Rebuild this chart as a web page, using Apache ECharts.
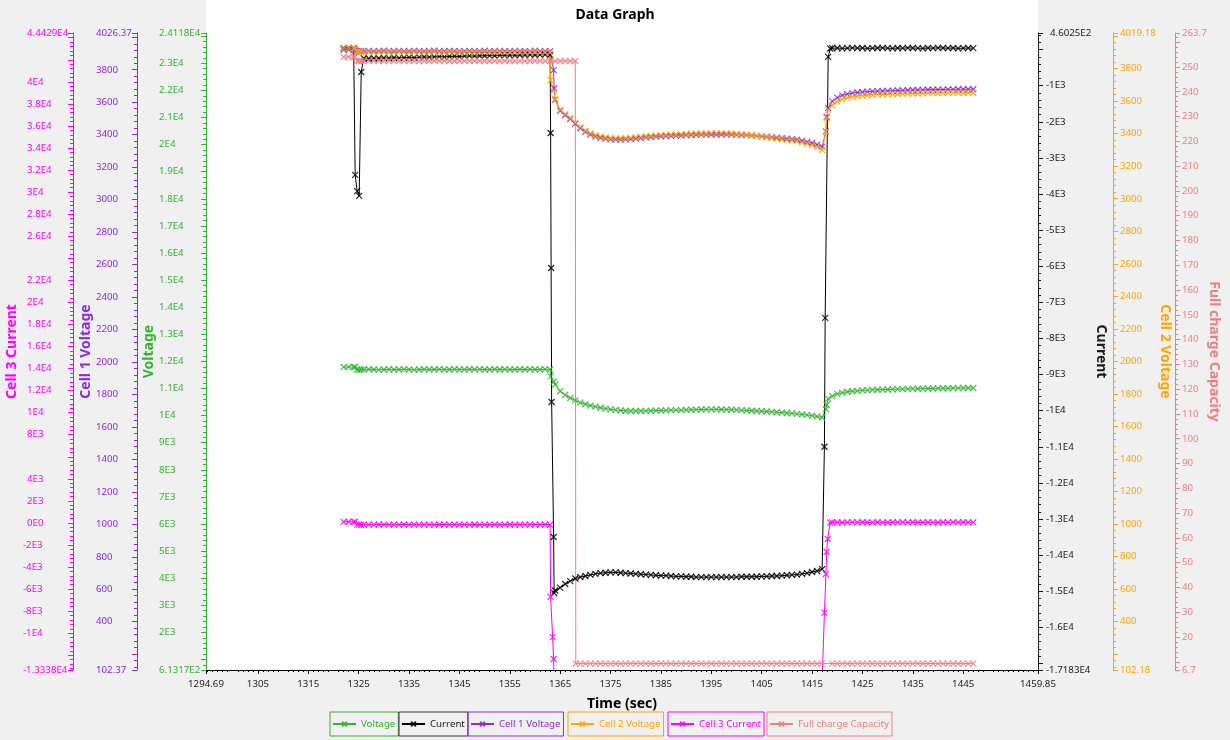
<!DOCTYPE html>
<html><head><meta charset="utf-8">
<script src="https://cdn.jsdelivr.net/npm/echarts@6/dist/echarts.min.js"></script>
<style>html,body{margin:0;padding:0;background:#F0F0F0}#c{width:1230px;height:740px}</style>
</head><body><div id="c"></div><script>
// ---------- sample times (sec) ----------
const time = [
 1322,1323,1324,
 1324.3,1324.7,1325.1,1325.5,
 1326,1327,1328,1329,1330,1331,1332,1333,1334,1335,
 1336,1337,1338,1339,1340,1341,1342,1343,1344,1345,
 1346,1347,1348,1349,1350,1351,1352,1353,1354,1355,
 1356,1357,1358,1359,1360,1361,1362,1363,
 1363.1,1363.2,1363.3,1363.5,1363.7,1363.8,
 1364,1365,1366,1367,1368,
 1368.1,
 1369,1370,1371,1372,1373,1374,1375,1376,1377,1378,
 1379,1380,1381,1382,1383,1384,1385,1386,1387,1388,
 1389,1390,1391,1392,1393,1394,1395,1396,1397,1398,
 1399,1400,1401,1402,1403,1404,1405,1406,1407,1408,
 1409,1410,1411,1412,1413,1414,1415,1416,1417,
 1417.35,1417.45,1417.6,1417.75,1417.9,1418.1,1418.2,1418.6,
 1419,1420,1421,1422,1423,1424,1425,1426,1427,1428,
 1429,1430,1431,1432,1433,1434,1435,1436,1437,1438,
 1439,1440,1441,1442,1443,1444,1445,1446,1447
];

const voltage = [
 11790,11800,11790,
 11790,11700,11690,11700,
 11700,11710,11700,11690,11700,11710,11700,11700,11710,11700,
 11690,11700,11710,11700,11700,11710,11700,11700,11710,11700,
 11700,11710,11700,11710,11700,11700,11710,11700,11710,11700,
 11700,11710,11700,11710,11700,11700,11710,11700,
 11450,null,null,null,11250,null,
 11150,10900,10760,10650,10560,
 null,
 10480,10420,10370,10330,10290,10260,10230,10210,10190,10180,
 10170,10170,10170,10175,10180,10185,10190,10195,10200,10200,
 10205,10210,10215,10220,10225,10230,10230,10230,10225,10220,
 10215,10210,10200,10190,10180,10170,10160,10150,10140,10125,
 10110,10095,10080,10065,10045,10025,10000,9970,9930,
 null,null,null,10240,10400,null,10620,null,
 10720,10800,10850,10880,10900,10915,10930,10940,10950,10955,
 10960,10965,10970,10975,10980,10985,10985,10990,10995,11000,
 11000,11005,11010,11010,11015,11015,11020,11020,11020
];

const current = [
 40,45,40,
 -3470,-3920,-4050,-620,
 -240,-245,-235,-240,-230,-235,-225,-230,-220,-215,
 -220,-210,-205,-210,-200,-195,-200,-190,-185,-190,
 -180,-175,-180,-170,-170,-165,-170,-160,-160,-155,
 -160,-150,-150,-145,-150,-145,-140,-145,
 -2310,-6050,-9760,null,-13500,-15050,
 -14980,-14900,-14800,-14720,-14650,
 null,
 -14610,-14580,-14550,-14520,-14500,-14490,-14480,-14480,-14490,-14500,
 -14510,-14520,-14530,-14540,-14550,-14560,-14570,-14570,-14580,-14590,
 -14590,-14600,-14600,-14610,-14610,-14610,-14610,-14610,-14610,-14610,
 -14610,-14610,-14600,-14600,-14600,-14600,-14590,-14590,-14580,-14580,
 -14570,-14560,-14550,-14540,-14520,-14500,-14470,-14440,-14390,
 null,-11000,-7430,null,null,null,-200,30,
 40,45,35,40,50,40,45,35,40,45,
 50,40,35,45,40,50,45,40,35,45,
 40,50,45,40,45,35,40,45,40
];

const cell1Voltage = [
 3922,3924,3922,
 3920,3914,3912,3914,
 3915,3916,3914,3915,3917,3915,3914,3916,3915,3914,
 3916,3915,3914,3915,3917,3915,3914,3916,3915,3914,
 3915,3916,3914,3915,3917,3915,3914,3916,3915,3914,
 3916,3915,3914,3915,3917,3915,3914,3915,
 null,null,null,null,3798,3686,
 3615,3547,3519,3496,3467,
 null,
 3439,3417,3401,3389,3381,3376,3372,3370,3370,3371,
 3373,3376,3379,3383,3386,3388,3390,3392,3393,3394,
 3395,3397,3398,3399,3400,3400,3401,3401,3401,3400,
 3400,3399,3398,3397,3395,3393,3390,3387,3384,3381,
 3378,3375,3372,3369,3363,3356,3349,3339,3326,
 null,null,null,3420,3510,null,3565,null,
 3605,3628,3642,3650,3656,3660,3663,3665,3667,3668,
 3669,3670,3671,3672,3673,3674,3675,3675,3676,3677,
 3677,3678,3678,3679,3679,3680,3680,3680,3680
];

const cell2Voltage = [
 3925,3926,3925,
 3924,3904,3902,3903,
 3902,3903,3901,3902,3904,3902,3901,3903,3902,3901,
 3903,3902,3901,3902,3904,3902,3901,3903,3902,3901,
 3902,3903,3901,3902,3904,3902,3901,3903,3902,3901,
 3903,3902,3901,3902,3904,3902,3901,3902,
 3730,null,null,null,3665,null,
 3612,3548,3520,3497,3468,
 null,
 3440,3418,3402,3390,3382,3377,3373,3371,3371,3372,
 3374,3377,3380,3384,3387,3389,3391,3393,3394,3395,
 3396,3398,3399,3400,3401,3401,3402,3402,3402,3401,
 3400,3398,3396,3393,3390,3386,3382,3378,3374,3370,
 3366,3362,3358,3354,3347,3339,3330,3318,3300,
 null,null,null,3412,3496,null,3546,null,
 3575,3598,3612,3620,3626,3630,3633,3636,3638,3640,
 3641,3642,3643,3644,3645,3646,3647,3647,3648,3649,
 3649,3650,3650,3651,3651,3652,3652,3652,3652
];

const cell3Current = [
 100,110,100,
 100,-150,-160,-150,
 -150,-160,-150,-140,-150,-150,-160,-150,-140,-150,
 -150,-150,-160,-150,-150,-140,-150,-150,-160,-150,
 -150,-150,-140,-150,-150,-160,-150,-150,-150,-140,
 -150,-150,-160,-150,-150,-150,-140,-150,
 -6700,null,null,-10350,-12340,-14900,
 -14950,-14880,-14790,-14710,-14640,
 null,
 -14600,-14570,-14540,-14510,-14490,-14480,-14470,-14470,-14480,-14490,
 -14500,-14510,-14520,-14530,-14540,-14550,-14560,-14560,-14570,-14580,
 -14580,-14590,-14590,-14600,-14600,-14600,-14600,-14600,-14600,-14600,
 -14600,-14600,-14590,-14590,-14590,-14590,-14580,-14580,-14570,-14570,
 -14560,-14550,-14540,-14530,-14510,-14490,-14460,-14430,-14400,
 -14400,-8140,null,-4630,-2610,-1460,null,20,
 50,60,40,50,70,50,60,40,50,60,
 50,40,60,50,70,50,60,40,50,60,
 50,40,60,50,70,50,60,50,50
];

const fullChargeCapacity = [
 254,254,254,
 254,252.4,252.4,252.4,
 252.4,252.4,252.4,252.4,252.4,252.4,252.4,252.4,252.4,252.4,
 252.4,252.4,252.4,252.4,252.4,252.4,252.4,252.4,252.4,252.4,
 252.4,252.4,252.4,252.4,252.4,252.4,252.4,252.4,252.4,252.4,
 252.4,252.4,252.4,252.4,252.4,252.4,252.4,252.4,
 null,null,null,null,null,null,
 252.4,252.4,252.4,252.4,252.4,
 9.3,
 9.3,9.3,9.3,9.3,9.3,9.3,9.3,9.3,9.3,9.3,
 9.3,9.3,9.3,9.3,9.3,9.3,9.3,9.3,9.3,9.3,
 9.3,9.3,9.3,9.3,9.3,9.3,9.3,9.3,9.3,9.3,
 9.3,9.3,9.3,9.3,9.3,9.3,9.3,9.3,9.3,9.3,
 9.3,9.3,9.3,9.3,9.3,9.3,9.3,9.3,9.3,
 null,null,null,null,null,null,null,null,
 9.3,9.3,9.3,9.3,9.3,9.3,9.3,9.3,9.3,9.3,
 9.3,9.3,9.3,9.3,9.3,9.3,9.3,9.3,9.3,9.3,
 9.3,9.3,9.3,9.3,9.3,9.3,9.3,9.3,9.3
];

// ---------- tick labels ----------
const xLabels = [1294.69,1305,1315,1325,1335,1345,1355,1365,1375,1385,1395,1405,1415,1425,1435,1445,1459.85];
const voltageLabels = [613.17,2000,3000,4000,5000,6000,7000,8000,9000,10000,11000,12000,13000,14000,15000,16000,17000,18000,19000,20000,21000,22000,23000,24118];
const cell1Labels = [102.37,400,600,800,1000,1200,1400,1600,1800,2000,2200,2400,2600,2800,3000,3200,3400,3600,3800,4026.37];
const cell3Labels = [-13338,-10000,-8000,-6000,-4000,-2000,0,2000,4000,8000,10000,12000,14000,16000,18000,20000,22000,26000,28000,30000,32000,34000,36000,38000,40000,44429];
const currentLabels = [-17183,-16000,-15000,-14000,-13000,-12000,-11000,-10000,-9000,-8000,-7000,-6000,-5000,-4000,-3000,-2000,-1000,460.25];
const cell2Labels = [102.18,400,600,800,1000,1200,1400,1600,1800,2000,2200,2400,2600,2800,3000,3200,3400,3600,3800,4019.18];
const fccLabels = [6.7,20,30,40,50,60,70,80,90,100,110,120,130,140,150,160,170,180,190,200,210,220,230,240,250,263.7];

const FONT = '"Segoe UI","Noto Sans",sans-serif';
const LBL = 9.7;

function fmtE(v){
  if (Math.abs(v) < 1e-9) return '0E0';
  let e = Math.floor(Math.log10(Math.abs(v)));
  let m = Math.round(v / Math.pow(10, e) * 10000) / 10000;
  if (Math.abs(m) >= 10) { m = m / 10; e += 1; }
  return String(m) + 'E' + e;
}
function fmtN(v){ return String(Math.round(v * 100) / 100); }
function majors(min, max, step){
  const out = [min];
  let k = Math.ceil(min / step);
  while (k * step < max) { if (k * step > min) out.push(k * step); k++; }
  out.push(max);
  return out;
}
function yAxisCfg(o){
  const fmt = o.sci ? fmtE : fmtN;
  return {
    type:'value', position:o.pos, offset:o.offset, min:o.min, max:o.max, splitNumber:o.split,
    name:o.name, nameLocation:'middle', nameGap:o.nameGap, nameMoveOverlap:false,
    nameRotate: o.pos === 'right' ? -90 : 90,
    nameTextStyle:{color:o.color, fontWeight:'bold', fontSize:14, fontFamily:FONT},
    axisLine:{show:true, onZero:false, lineStyle:{color:o.color, width:1}},
    axisTick:{show:true, inside:false, length:5, lineStyle:{color:o.color, width:1}, customValues:majors(o.min, o.max, o.step)},
    minorTick:{show:true, splitNumber:5, length:3, lineStyle:{color:o.color, width:1}},
    splitLine:{show:false}, minorSplitLine:{show:false},
    axisLabel:{
      show:true, customValues:o.labels, align:'left', margin:o.margin,
      color:o.labelColor || o.color, fontSize:LBL, fontFamily:FONT,
      showMinLabel:true, showMaxLabel:true,
      formatter: function(v){ const s = fmt(v); return (o.hang && v >= 0) ? '{p|' + s + '}' : s; },
      rich:{ p:{ padding:[0,0,0,4], color:o.labelColor || o.color, fontSize:LBL, fontFamily:FONT } }
    }
  };
}

const yAxes = [
  yAxisCfg({name:'Voltage', pos:'left', offset:0, min:613.17, max:24118, split:20, step:1000, labels:voltageLabels, color:'#32B432', sci:true, margin:47, nameGap:50}),
  yAxisCfg({name:'Current', pos:'right', offset:0, min:-17183, max:460.25, split:15, step:1000, labels:currentLabels, color:'#1a1a1a', labelColor:'#1a1a1a', sci:true, hang:true, margin:8, nameGap:56}),
  yAxisCfg({name:'Cell 1 Voltage', pos:'left', offset:69, min:102.37, max:4026.37, split:20, step:200, labels:cell1Labels, color:'#8A2BE2', margin:41, nameGap:44}),
  yAxisCfg({name:'Cell 2 Voltage', pos:'right', offset:75, min:102.18, max:4019.18, split:20, step:200, labels:cell2Labels, color:'#FFA500', margin:7, nameGap:45}),
  yAxisCfg({name:'Cell 3 Current', pos:'left', offset:133, min:-13338, max:44429, split:29, step:2000, labels:cell3Labels, color:'#FF00FF', sci:true, hang:true, margin:50, nameGap:54}),
  yAxisCfg({name:'Full charge Capacity', pos:'right', offset:137, min:6.7, max:263.7, split:20, step:10, labels:fccLabels, color:'#F08080', margin:7, nameGap:32})
];

const seriesDefs = [
  {name:'Voltage', values:voltage, color:'#32B432', axis:0},
  {name:'Current', values:current, color:'#000000', axis:1},
  {name:'Cell 1 Voltage', values:cell1Voltage, color:'#8A2BE2', axis:2},
  {name:'Cell 2 Voltage', values:cell2Voltage, color:'#FFA500', axis:3},
  {name:'Cell 3 Current', values:cell3Current, color:'#FF00FF', axis:4},
  {name:'Full charge Capacity', values:fullChargeCapacity, color:'#F08080', axis:5}
];
const legendLeft = [330, 399, 468, 568, 668, 767];

function pairs(vals){
  const out = [];
  for (let i = 0; i < time.length; i++) if (vals[i] !== null && vals[i] !== undefined) out.push([time[i], vals[i]]);
  return out;
}

const XSYM = 'path://M0,0L10,10M10,0L0,10';

const option = {
  backgroundColor:'#F0F0F0',
  animation:false,
  title:{text:'Data Graph', left:'center', top:3, textStyle:{fontSize:14, fontWeight:'bold', color:'#000', fontFamily:FONT}},
  graphic:[{type:'rect', silent:true, z:-1, shape:{x:206, y:0, width:832, height:40}, style:{fill:'#ffffff'}}],
  grid:{left:206, right:192, top:33, bottom:70, show:true, backgroundColor:'#ffffff', borderWidth:0, containLabel:false, outerBoundsMode:'none'},
  xAxis:{
    type:'value', min:1294.69, max:1459.85, splitNumber:14,
    name:'Time (sec)', nameLocation:'middle', nameGap:27, nameMoveOverlap:false,
    nameTextStyle:{fontWeight:'bold', fontSize:14, color:'#000', fontFamily:FONT},
    axisLine:{show:true, onZero:false, lineStyle:{color:'#000', width:1}},
    axisTick:{show:true, length:4, lineStyle:{color:'#000'}, customValues:xLabels},
    minorTick:{show:true, splitNumber:10, length:2, lineStyle:{color:'#000'}},
    splitLine:{show:false}, minorSplitLine:{show:false},
    axisLabel:{customValues:xLabels, formatter:fmtN, color:'#1e1e1e', fontSize:LBL, fontFamily:FONT, margin:9, showMinLabel:true, showMaxLabel:true}
  },
  yAxis:yAxes,
  legend: seriesDefs.map(function(s, i){
    return {
      data:[{name:s.name}], left:legendLeft[i], top:712, orient:'horizontal',
      padding:[7,3,7,2], borderColor:s.color === '#000000' ? '#333' : s.color, borderWidth:1,
      itemWidth:23, itemHeight:6, itemGap:0, selectedMode:false,
      textStyle:{fontSize:LBL, color:s.color === '#000000' ? '#1a1a1a' : s.color, fontFamily:FONT}
    };
  }),
  series: seriesDefs.map(function(s){
    return {
      name:s.name, type:'line', yAxisIndex:s.axis, data:pairs(s.values),
      connectNulls:true, clip:true,
      symbol:XSYM, symbolSize:6, showSymbol:true,
      lineStyle:{color:s.color, width:1},
      itemStyle:{color:s.color, borderColor:s.color, borderWidth:1.2, opacity:0.85},
      emphasis:{disabled:true}
    };
  })
};

const chart = echarts.init(document.getElementById('c'), null, {renderer:'canvas'});
chart.setOption(option);
</script></body></html>
